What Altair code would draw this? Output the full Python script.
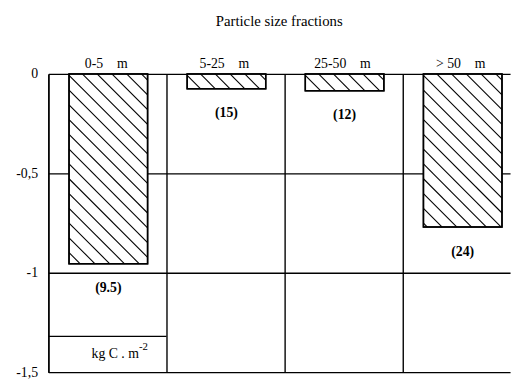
import altair as alt
import pandas as pd

NB = "\u00a0"
# ---- data ----
fractions = ["0-5" + NB * 4 + "m", "5-25" + NB * 4 + "m",
             "25-50" + NB * 4 + "m", ">" + NB + "50" + NB * 4 + "m"]
carbon = [-0.955, -0.075, -0.085, -0.77]          # kg C m-2
share_labels = ["(9.5)", "(15)", "(12)", "(24)"]
y_ticks = [0, -0.5, -1, -1.5]
col_edges = [0, 1, 2, 3]
unit_box_top = -1.32
unit_text = "kg C . m"
unit_sup = "-2"
title_text = "Particle size fractions"

# ---- layout / style ----
W, H = 469, 303
COL_PX = 120.0
X_MAX = W / COL_PX
Y_MIN = -1.5
PX_PER_Y = H / 1.5
BAR_L, BAR_R = 0.175, 0.84
HATCH_STEP = 15.0
FONT = "Liberation Serif"

bars = pd.DataFrame({
    "idx": list(range(len(fractions))),
    "fraction": fractions,
    "carbon": carbon,
    "label": share_labels,
})
bars["x0"] = bars["idx"] + BAR_L
bars["x1"] = bars["idx"] + BAR_R
bars["xc"] = bars["idx"] + (BAR_L + BAR_R) / 2
bars["xh"] = bars["idx"] + 0.49
bars["top"] = 0.0

# hatch segments derived from each bar's extent (45 deg in pixel space)
segs = []
for _, r in bars.iterrows():
    x0p, x1p = r["x0"] * COL_PX, r["x1"] * COL_PX
    hp = -r["carbon"] * PX_PER_Y
    w = x1p - x0p
    j = -int(w // HATCH_STEP) - 1
    while j * HATCH_STEP < hp:
        b = j * HATCH_STEP + 1.5
        xs = max(x0p, x0p - b)
        xe = min(x1p, x0p + hp - b)
        if xe - xs > 1:
            ys = xs - x0p + b
            ye = xe - x0p + b
            segs.append({"hx": xs / COL_PX, "hx2": xe / COL_PX,
                         "hy": -ys / PX_PER_Y, "hy2": -ye / PX_PER_Y})
        j += 1
hatch = pd.DataFrame(segs)

xscale = alt.Scale(domain=[0, X_MAX], nice=False, zero=False)
yscale = alt.Scale(domain=[Y_MIN, 0], nice=False, zero=False)

xaxis = alt.Axis(values=col_edges, grid=True, labels=False, ticks=False,
                 domain=False, title=None)
yaxis = alt.Axis(values=y_ticks, grid=True, ticks=False, title=None,
                 labelExpr="replace(toString(datum.value), '.', ',')",
                 labelPadding=11, labelFont=FONT, labelFontSize=14,
                 labelColor="black", labelBaseline="middle")

base = alt.Chart(bars)

bar_layer = base.mark_bar(fill="white", stroke="black", strokeWidth=1.5).encode(
    x=alt.X("x0:Q", scale=xscale, axis=xaxis),
    x2="x1:Q",
    y=alt.Y("top:Q", scale=yscale, axis=yaxis),
    y2="carbon:Q",
)

hatch_layer = alt.Chart(hatch).mark_rule(color="black", strokeWidth=1.1).encode(
    x=alt.X("hx:Q", scale=xscale),
    x2="hx2:Q",
    y=alt.Y("hy:Q", scale=yscale),
    y2="hy2:Q",
)

outline_layer = base.mark_bar(fillOpacity=0, stroke="black", strokeWidth=1.5).encode(
    x=alt.X("x0:Q", scale=xscale), x2="x1:Q",
    y=alt.Y("top:Q", scale=yscale), y2="carbon:Q",
)

value_labels = base.mark_text(font=FONT, fontSize=14, fontWeight="bold",
                              baseline="middle", dy=25, color="black").encode(
    x=alt.X("xc:Q", scale=xscale),
    y=alt.Y("carbon:Q", scale=yscale),
    text="label:N",
)

headers = base.mark_text(font=FONT, fontSize=14, baseline="middle",
                         color="black").encode(
    x=alt.X("xh:Q", scale=xscale),
    y=alt.value(-10),
    text="fraction:N",
)

title_layer = alt.Chart(pd.DataFrame({"t": [title_text]})).mark_text(
    font=FONT, fontSize=15, baseline="middle", color="black").encode(
    x=alt.value(W / 2), y=alt.value(-54), text="t:N")

unit_df = pd.DataFrame({"x": [0], "x2": [1], "y": [unit_box_top],
                        "tx": [0.5], "ty": [(unit_box_top + Y_MIN) / 2],
                        "u": [unit_text], "s": [unit_sup]})
unit_rule = alt.Chart(unit_df).mark_rule(color="black", strokeWidth=1.3).encode(
    x=alt.X("x:Q", scale=xscale), x2="x2:Q", y=alt.Y("y:Q", scale=yscale))
unit_main = alt.Chart(unit_df).mark_text(font=FONT, fontSize=14, align="right",
                                         baseline="middle", dx=32, color="black").encode(
    x=alt.X("tx:Q", scale=xscale), y=alt.Y("ty:Q", scale=yscale), text="u:N")
unit_s = alt.Chart(unit_df).mark_text(font=FONT, fontSize=11, align="left",
                                      baseline="middle", dx=32, dy=-7, color="black").encode(
    x=alt.X("tx:Q", scale=xscale), y=alt.Y("ty:Q", scale=yscale), text="s:N")

chart = alt.layer(
    bar_layer, hatch_layer, outline_layer, value_labels, headers, title_layer,
    unit_rule, unit_main, unit_s,
).properties(
    width=W, height=H,
    autosize=alt.AutoSizeParams(type="none"),
    padding={"left": 41, "top": 64, "right": 4, "bottom": 6},
).configure_view(stroke=None).configure_axis(
    gridColor="black", gridWidth=1.4, gridOpacity=1,
    domainColor="black", domainWidth=1.4,
)

chart.save("out.html", embed_options={"renderer": "svg", "actions": False})
